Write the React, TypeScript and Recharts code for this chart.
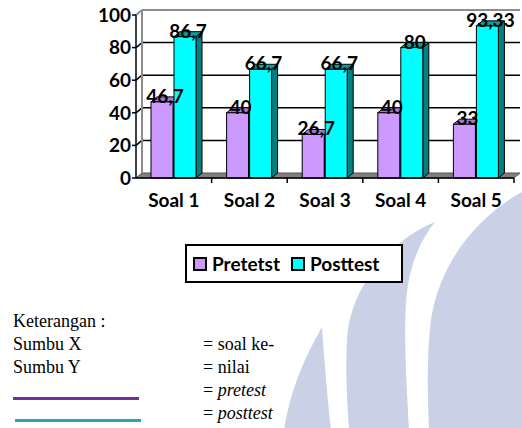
import React from 'react';
import { Bar, BarChart, CartesianGrid, LabelList, Legend, XAxis, YAxis } from 'recharts';

// values (Indonesian decimal comma on the labels)
const categories = ['Soal 1', 'Soal 2', 'Soal 3', 'Soal 4', 'Soal 5'];
const pretest = [46.7, 40, 26.7, 40, 33];
const posttest = [86.7, 66.7, 66.7, 80, 93.33];
const yTicks = [0, 20, 40, 60, 80, 100];
const seriesNames = ['Pretetst', 'Posttest'];

const data = categories.map((label, i) => ({ label, pretest: pretest[i], posttest: posttest[i] }));

// 3D depth of the Excel-style chart
const DX = 6;
const DY = 5;
const CHART_FONT = 'Lato, "Open Sans", sans-serif';

const fmt = (v: number) => String(v).replace('.', ',');

function Bar3D(props: any) {
  const { x, y, width, height, fill, side, top } = props;
  if (!height || height <= 0) return null;
  const r = x + width;
  const b = y + height;
  return (
    <g>
      <polygon
        points={`${r},${y} ${r + DX},${y - DY} ${r + DX},${b - DY} ${r},${b}`}
        fill={side}
        stroke="#000"
        strokeWidth={1}
      />
      <polygon
        points={`${x},${y} ${x + DX},${y - DY} ${r + DX},${y - DY} ${r},${y}`}
        fill={top}
        stroke="#000"
        strokeWidth={1}
      />
      <rect x={x} y={y} width={width} height={height} fill={fill} stroke="#000" strokeWidth={1} />
    </g>
  );
}

// back wall, floor and gridlines, pushed back by the depth offset
function WallLine(props: any) {
  const { x1, x2, y1, horizontalPoints, y, height } = props;
  const pts: number[] = horizontalPoints && horizontalPoints.length ? horizontalPoints : [y, y + height];
  const top = Math.min(...pts);
  const bottom = Math.max(...pts);
  if (Math.abs(y1 - bottom) < 0.5) {
    return (
      <polygon
        points={`${x1},${y1} ${x1 + DX},${y1 - DY} ${x2 + DX},${y1 - DY} ${x2},${y1}`}
        fill="#808080"
        stroke="#555"
        strokeWidth={1}
      />
    );
  }
  if (Math.abs(y1 - top) < 0.5) {
    return (
      <g stroke="#8c8c8c" strokeWidth={2} fill="none">
        <line x1={x1 + DX} y1={y1 - DY} x2={x2 + DX} y2={y1 - DY} />
        <line x1={x1} y1={y1} x2={x1 + DX} y2={y1 - DY} />
        <line x1={x1 + DX} y1={top - DY} x2={x1 + DX} y2={bottom - DY} />
      </g>
    );
  }
  return (
    <g stroke="#000" strokeWidth={1.5} fill="none">
      <line x1={x1 + DX} y1={y1 - DY} x2={x2 + DX} y2={y1 - DY} />
      <line x1={x1} y1={y1} x2={x1 + DX} y2={y1 - DY} />
    </g>
  );
}

function CategoryTick(props: any) {
  const { x, y, payload } = props;
  const half = payload.offset ?? 0;
  return (
    <g>
      <line x1={x + half} y1={y} x2={x + half} y2={y + 5} stroke="#000" strokeWidth={1.5} />
      <text
        x={x}
        y={y + 29}
        textAnchor="middle"
        fill="#000"
        fontSize={19}
        fontWeight={700}
        fontFamily={CHART_FONT}
      >
        {payload.value}
      </text>
    </g>
  );
}

function ValueLabel(props: any) {
  const { x, y, width, value } = props;
  return (
    <text
      x={Number(x) + Number(width) / 2 + DX / 2}
      y={Number(y) + 1}
      textAnchor="middle"
      fill="#000"
      fontSize={19}
      fontWeight={700}
      fontFamily={CHART_FONT}
    >
      {fmt(value)}
    </text>
  );
}

function LegendBox({ payload }: any) {
  // keep series order (recharts sorts legend items by name otherwise)
  const items = [...(payload ?? [])].sort(
    (a: any, b: any) => seriesNames.indexOf(a.value) - seriesNames.indexOf(b.value),
  );
  return (
    <div
      style={{
        display: 'flex',
        alignItems: 'center',
        height: '100%',
        boxSizing: 'border-box',
        border: '2px solid #000',
        background: '#fff',
        paddingLeft: 6,
        fontFamily: CHART_FONT,
        fontWeight: 700,
        fontSize: 19,
        color: '#000',
      }}
    >
      {items.map((entry: any) => (
        <span key={entry.value} style={{ display: 'flex', alignItems: 'center', marginRight: 11 }}>
          <span
            style={{
              display: 'inline-block',
              width: 10,
              height: 10,
              border: '2px solid #000',
              background: entry.color,
              marginRight: 5,
            }}
          />
          {entry.value}
        </span>
      ))}
    </div>
  );
}

function Watermark() {
  return (
    <svg width={522} height={428} style={{ position: 'absolute', left: 0, top: 0 }}>
      <g fill="#cad0e5">
        <path d="M322,327 C312,345 292,380 284,430 L331,430 C327,395 324,355 322,327 Z" />
        <path d="M435,222 C400,235 350,280 347,340 C345,380 348,410 349,430 L409,430 C407,390 402,320 408,285 C412,260 422,238 435,222 Z" />
        <path d="M522,192 C480,215 440,260 431,320 C426,360 428,400 429,430 L530,430 L530,190 Z" />
      </g>
    </svg>
  );
}

const noteStyle: React.CSSProperties = {
  position: 'absolute',
  fontFamily: '"Liberation Serif", "Times New Roman", serif',
  fontSize: 18,
  lineHeight: '23px',
  color: '#000',
  whiteSpace: 'nowrap',
};

function Notes() {
  return (
    <>
      <div style={{ ...noteStyle, left: 13, top: 310 }}>
        <div>Keterangan :</div>
        <div>Sumbu X</div>
        <div>Sumbu Y</div>
      </div>
      <div style={{ ...noteStyle, left: 203, top: 333 }}>
        <div>= soal ke-</div>
        <div>= nilai</div>
        <div>
          = <i>pretest</i>
        </div>
        <div>
          = <i>posttest</i>
        </div>
      </div>
      <div style={{ position: 'absolute', left: 13, top: 397, width: 126, height: 3, background: '#7030a0' }} />
      <div style={{ position: 'absolute', left: 15, top: 419, width: 126, height: 3, background: '#31a0b8' }} />
    </>
  );
}

export default function App() {
  return (
    <div
      style={{
        position: 'absolute',
        left: 0,
        top: 0,
        width: 522,
        height: 428,
        background: '#fff',
        overflow: 'hidden',
      }}
    >
      <Watermark />
      <div style={{ position: 'absolute', left: 0, top: 0 }}>
        <BarChart
          width={522}
          height={290}
          data={data}
          margin={{ top: 15, right: 8, bottom: 72, left: 0 }}
          barSize={22}
          barGap={1}
        >
          <CartesianGrid vertical={false} horizontal={(p: any) => <WallLine {...p} />} />
          <XAxis
            dataKey="label"
            height={40}
            tickSize={0}
            tickMargin={0}
            axisLine={{ stroke: '#000', strokeWidth: 1.5 }}
            tickLine={false}
            tick={<CategoryTick />}
            interval={0}
          />
          <YAxis
            width={136}
            domain={[0, 100]}
            ticks={yTicks}
            tickSize={4}
            tickMargin={1}
            axisLine={{ stroke: '#000', strokeWidth: 1.5 }}
            tickLine={{ stroke: '#000', strokeWidth: 1.5 }}
            tick={{ fill: '#000', fontSize: 19, fontWeight: 700, fontFamily: CHART_FONT }}
          />
          <Legend
            layout="horizontal"
            verticalAlign="middle"
            align="center"
            wrapperStyle={{ position: 'absolute', left: 185, top: 244, width: 218, height: 39 }}
            content={<LegendBox />}
          />
          <Bar
            dataKey="pretest"
            name={seriesNames[0]}
            fill="#cc99ff"
            isAnimationActive={false}
            shape={(p: any) => <Bar3D {...p} side="#9966cc" top="#a37acc" />}
          >
            <LabelList dataKey="pretest" content={<ValueLabel />} />
          </Bar>
          <Bar
            dataKey="posttest"
            name={seriesNames[1]}
            fill="#00ffff"
            isAnimationActive={false}
            shape={(p: any) => <Bar3D {...p} side="#008080" top="#00a0a0" />}
          >
            <LabelList dataKey="posttest" content={<ValueLabel />} />
          </Bar>
        </BarChart>
      </div>
      <Notes />
    </div>
  );
}
